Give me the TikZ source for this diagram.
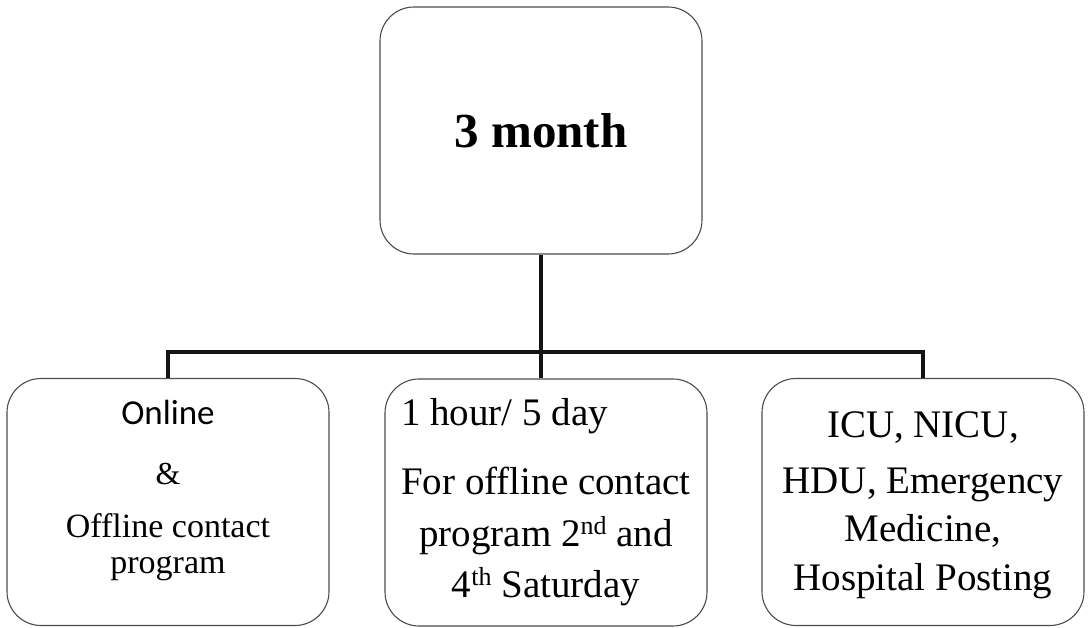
\documentclass[tikz,border=0pt]{standalone}
\usepackage{fontspec}
\usepackage{calc}
\setmainfont{Liberation Serif}
\newfontfamily\scanserif{Liberation Serif}
\newfontfamily\scansans{Carlito}
\usetikzlibrary{calc}
\newcommand{\BOXW}{322pt}
\newcommand{\BOXH}{247pt}
\newcommand{\LINEPT}{3.5pt}
\newcommand{\ordsup}[1]{\raisebox{12pt}{\fontsize{26}{26}\selectfont #1}}
\definecolor{myline}{rgb}{0.08,0.08,0.08}
\definecolor{myedge}{rgb}{0.30,0.30,0.30}

\begin{document}
\begin{tikzpicture}[x=1pt,y=1pt,
	plan/.style={draw=myedge,line width=1.1pt,rounded corners=34pt,minimum width=\BOXW,minimum height=\BOXH,inner sep=0pt,align=center},
	link/.style={draw=myline,line width=\LINEPT}]
	
	\useasboundingbox (0,0) rectangle (1088,628);
	
	%% box centres
	\coordinate (c0) at (541,497.5);
	\coordinate (c1) at (168,126);
	\coordinate (c2) at (546,125.5);
	\coordinate (c3) at (923,126);
	
	\node[plan,font=\scanserif\fontsize{49}{56}\selectfont\bfseries] (top) at (c0) {3 month};
	
	\node[plan,font=\scanserif\fontsize{34}{36}\selectfont] (left) at (c1) {{\scansans\fontsize{35}{36}\selectfont Online}\\[24pt] {\fontsize{32}{36}\selectfont\&}\\[17pt] Offline contact\\ program\rule[-29.4pt]{0pt}{1pt}};
	\node[plan,font=\scanserif\fontsize{39}{51.5}\selectfont] (mid) at (c2) {\makebox[\widthof{For offline contact}][l]{1 hour/ 5 day}\\[17.5pt] For offline contact\\ program 2\ordsup{nd} and\\ 4\ordsup{th} Saturday};
	\node[plan,font=\scanserif\fontsize{39}{48.5}\selectfont] (right) at (c3) {\rule{0pt}{31.8pt}ICU, NICU,\\[7.5pt] HDU, Emergency\\ Medicine,\\ Hospital Posting};
	
	%% connectors
	\coordinate (split) at ($(top.south)+(0,-97.5)$);
	\draw[link] (top.south) -- (top.south |- mid.north);
	\draw[link] (left.north) |- (split) -| (right.north);
	
\end{tikzpicture}
\end{document}
